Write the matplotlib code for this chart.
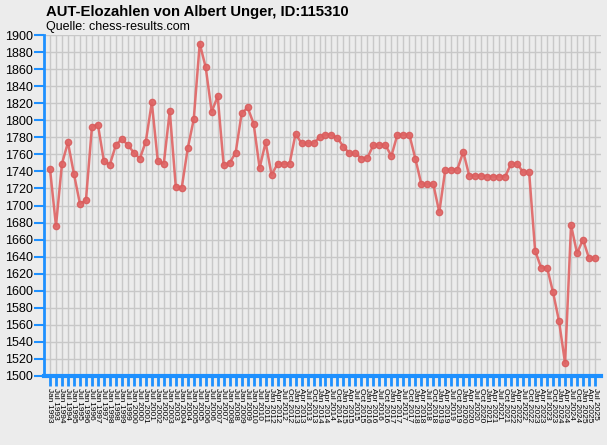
import matplotlib
matplotlib.use('Agg')
import matplotlib.pyplot as plt

plt.rcParams['font.family'] = ['Liberation Sans', 'DejaVu Sans']

dates = [
    'Jan 1993', 'Jul 1993', 'Jan 1994', 'Jul 1994', 'Jan 1995', 'Jul 1995',
    'Jan 1996', 'Jul 1996', 'Jan 1997', 'Jul 1997', 'Jan 1998', 'Jul 1998',
    'Jan 1999', 'Jul 1999', 'Jan 2000', 'Jul 2000', 'Jan 2001', 'Jul 2001',
    'Jan 2002', 'Jul 2002', 'Jan 2003', 'Jul 2003', 'Jan 2004', 'Jul 2004',
    'Jan 2005', 'Jul 2005', 'Jan 2006', 'Jul 2006', 'Jan 2007', 'Jul 2007',
    'Jan 2008', 'Jul 2008', 'Jan 2009', 'Jul 2009', 'Jan 2010', 'Jul 2010',
    'Jan 2011',
    'Jan 2012', 'Apr 2012', 'Jul 2012', 'Oct 2012',
    'Jan 2013', 'Apr 2013', 'Jul 2013', 'Oct 2013',
    'Jan 2014', 'Apr 2014', 'Jul 2014', 'Oct 2014',
    'Jan 2015', 'Apr 2015', 'Jul 2015', 'Oct 2015',
    'Jan 2016', 'Apr 2016', 'Jul 2016', 'Oct 2016',
    'Jan 2017', 'Apr 2017', 'Jul 2017', 'Oct 2017',
    'Jan 2018', 'Apr 2018', 'Jul 2018', 'Oct 2018',
    'Jan 2019', 'Apr 2019', 'Jul 2019', 'Oct 2019',
    'Jan 2020', 'Apr 2020', 'Jul 2020', 'Oct 2020',
    'Jan 2021', 'Apr 2021', 'Jul 2021', 'Oct 2021',
    'Jan 2022', 'Apr 2022', 'Jul 2022', 'Oct 2022',
    'Jan 2023', 'Apr 2023', 'Jul 2023', 'Oct 2023',
    'Jan 2024', 'Apr 2024', 'Jul 2024', 'Oct 2024',
    'Jan 2025', 'Apr 2025', 'Jul 2025',
]

elo = [
    1743, 1676, 1749, 1774, 1737, 1702, 1706, 1792, 1795, 1752,
    1748, 1771, 1778, 1771, 1762, 1755, 1775, 1821, 1752, 1749,
    1811, 1722, 1721, 1767, 1801, 1890, 1862, 1810, 1828, 1747,
    1750, 1762, 1808, 1815, 1796, 1744, 1774, 1736, 1749, 1749,
    1749, 1784, 1773, 1773, 1773, 1780, 1783, 1783, 1779, 1769,
    1761, 1761, 1755, 1756, 1771, 1771, 1771, 1758, 1783, 1783,
    1783, 1755, 1725, 1725, 1725, 1692, 1742, 1742, 1742, 1763,
    1735, 1735, 1735, 1734, 1734, 1734, 1734, 1749, 1749, 1739,
    1739, 1647, 1627, 1627, 1598, 1564, 1515, 1677, 1644, 1660,
    1638, 1638,
]

yticks = list(range(1500, 1901, 20))

bg = '#ececec'
blue = '#1e90ff'

fig = plt.figure(figsize=(6.07, 4.45), dpi=100, facecolor=bg)
ax = fig.add_axes([44 / 607, 69 / 445, 557 / 607, 341 / 445], facecolor=bg)

x = list(range(len(elo)))
ax.plot(x, elo, color='#e06464', lw=1.8, alpha=0.9,
        marker='o', ms=4.5, mfc='#e06464', mec='#d85c5c', zorder=3)

ax.set_xlim(-1, len(elo))
ax.set_ylim(1500, 1900)
ax.set_yticks(yticks)
ax.set_xticks(x)
ax.set_xticklabels(dates, rotation=-90, fontsize=6, va='top', ha='center')
ax.tick_params(axis='y', labelsize=9, colors=blue, labelcolor='black',
               length=7, width=1.5, direction='out', pad=1)
ax.tick_params(axis='x', colors=blue, labelcolor='black',
               length=7, width=2, direction='out', pad=1.5)

ax.grid(True, color='#c8c8c8', lw=1)
ax.set_axisbelow(True)
for s in ['top', 'right']:
    ax.spines[s].set_visible(False)
ax.spines['left'].set_color(blue)
ax.spines['left'].set_linewidth(2)
ax.spines['bottom'].set_color(blue)
ax.spines['bottom'].set_linewidth(3)

fig.text(46 / 607, 1 - 12 / 445, 'AUT-Elozahlen von Albert Unger, ID:115310',
         fontsize=10.7, fontweight='bold', va='center', ha='left')
fig.text(46 / 607, 1 - 27 / 445, 'Quelle: chess-results.com',
         fontsize=9, va='center', ha='left')

fig.savefig('out.png', dpi=100, facecolor=bg)
